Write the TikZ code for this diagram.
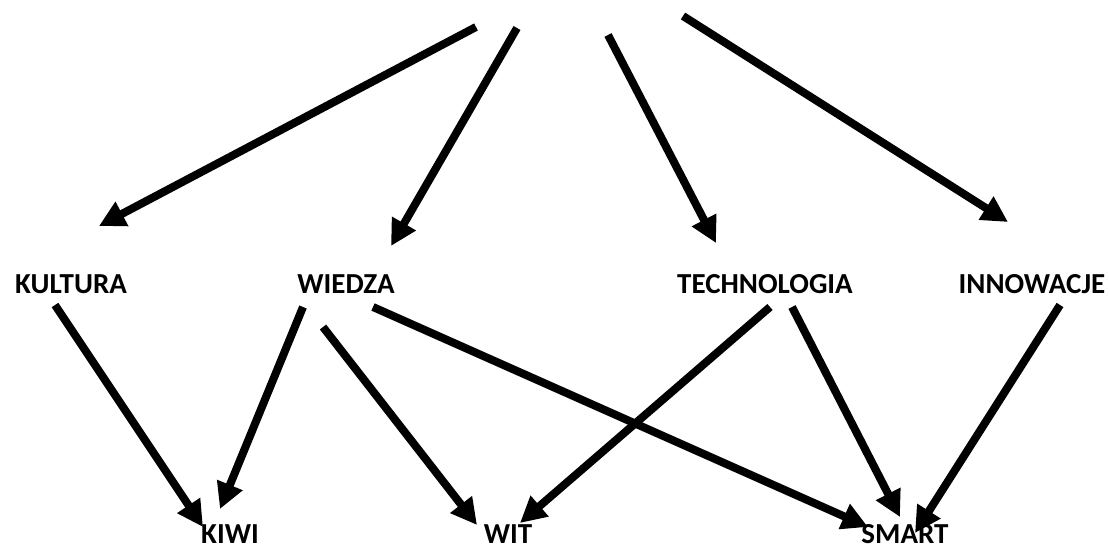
\documentclass[tikz,border=0pt]{standalone}
\usepackage{fontspec}
\setmainfont{Carlito}
\usetikzlibrary{arrows.meta}
\begin{document}
\begin{tikzpicture}[x=1pt,y=-1pt,
  lbl/.style={font=\bfseries\fontsize{29}{34}\selectfont, inner sep=0pt, anchor=base},
  arr/.style={line width=8pt, -{Triangle[length=26pt,width=26pt]}}]
\useasboundingbox (0,0) rectangle (1110,546);
\node[lbl] (kul) at (71,293) {KULTURA};
\node[lbl] (wie) at (346,293) {WIEDZA};
\node[lbl] (tec) at (765,293) {TECHNOLOGIA};
\node[lbl] (inn) at (1032,293) {INNOWACJE};
\node[lbl] (kiwi) at (230,543) {KIWI};
\node[lbl] (wit) at (508,543) {WIT};
\node[lbl] (sma) at (905,543) {SMART};
\coordinate (t1) at (476,27);
\coordinate (t2) at (517,28);
\coordinate (t3) at (608,35);
\coordinate (t4) at (683,16);
\draw[arr] (t1) -- ([shift={(28,-67)}]kul.base);
\draw[arr] (t2) -- ([shift={(45,-47)}]wie.base);
\draw[arr] (t3) -- ([shift={(-49,-50)}]tec.base);
\draw[arr] (t4) -- ([shift={(-24,-71)}]inn.base);
\draw[arr] ([shift={(-16,12)}]kul.base) -- ([shift={(-27,-16)}]kiwi.base);
\draw[arr] ([shift={(-43,14)}]wie.base) -- ([shift={(-10,-34)}]kiwi.base);
\draw[arr] ([shift={(-23,34)}]wie.base) -- ([shift={(-31,-18)}]wit.base);
\draw[arr] ([shift={(27,14)}]wie.base) -- ([shift={(-37,-16)}]sma.base);
\draw[arr] ([shift={(5,14)}]tec.base) -- ([shift={(12,-20)}]wit.base);
\draw[arr] ([shift={(27,14)}]tec.base) -- ([shift={(-5,-26)}]sma.base);
\draw[arr] ([shift={(28,12)}]inn.base) -- ([shift={(10,-10)}]sma.base);
\end{tikzpicture}
\end{document}
